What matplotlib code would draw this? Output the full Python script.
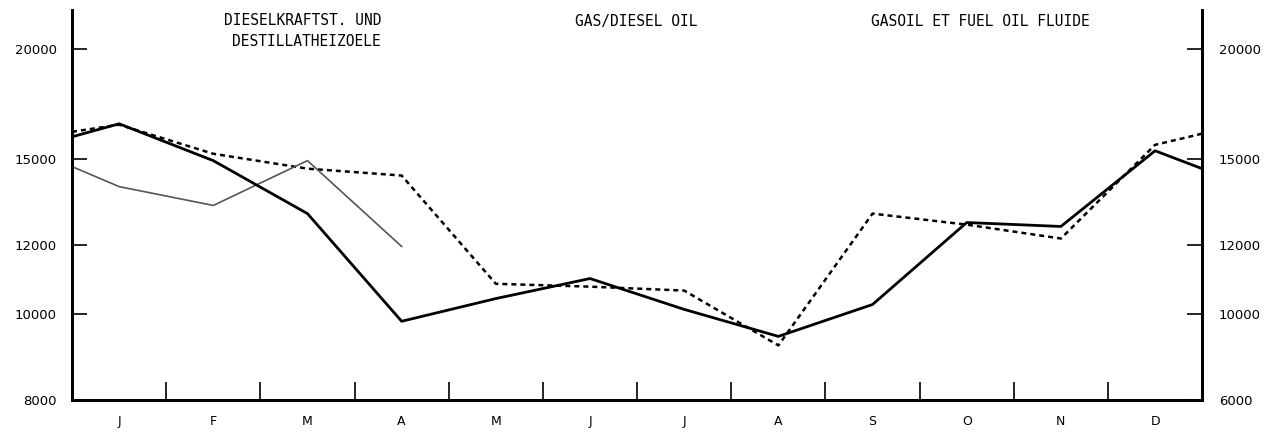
import matplotlib
matplotlib.use("Agg")
import matplotlib.pyplot as plt
from matplotlib.ticker import FixedLocator, NullLocator, FixedFormatter

# DATA (first/last points sit on the frame edges)

MONTHS = ["J", "F", "M", "A", "M", "J", "J", "A", "S", "O", "N", "D"]

x_full = [0, 0.5, 1.5, 2.5, 3.5, 4.5, 5.5, 6.5, 7.5, 8.5, 9.5, 10.5, 11.5, 12]
solid_vals = [15900, 16450, 14940, 13010, 9820, 10420, 10980, 10130, 9440,
              10260, 12710, 12580, 15330, 14630]
dotted_vals = [16110, 16410, 15210, 14630, 14370, 10830, 10750, 10640, 9220,
               13010, 12640, 12190, 15570, 16030]

x_part = [0, 0.5, 1.5, 2.5, 3.5]
grey_vals = [14710, 13960, 13290, 14940, 11940]

Y_TICKS = [8000, 10000, 12000, 15000, 20000]
Y_LABELS_LEFT = ["8000", "10000", "12000", "15000", "20000"]
Y_LABELS_RIGHT = ["6000", "10000", "12000", "15000", "20000"]

TITLE_DE_1 = "DIESELKRAFTST. UND"
TITLE_DE_2 = "DESTILLATHEIZOELE"
TITLE_EN = "GAS/DIESEL OIL"
TITLE_FR = "GASOIL ET FUEL OIL FLUIDE"

# PLOT

fig = plt.figure(figsize=(12.77, 4.32), dpi=100)
ax = fig.add_axes([0.0564, 0.0741, 0.885, 0.903])

ax.plot(x_full, solid_vals, color="black", linewidth=2.0, zorder=3)
ax.plot(x_full, dotted_vals, color="black", linewidth=1.8,
        linestyle=(0, (2, 1.6)), zorder=2)
ax.plot(x_part, grey_vals, color="#555555", linewidth=1.2, zorder=2)

ax.set_yscale("log")
ax.set_ylim(7995, 22150)
ax.set_xlim(0, 12)

# x axis: month labels centred, small tick marks between months
ax.xaxis.set_major_locator(FixedLocator(list(range(1, 12))))
ax.xaxis.set_major_formatter(FixedFormatter([""] * 11))
ax.xaxis.set_minor_locator(FixedLocator([i + 0.5 for i in range(12)]))
ax.xaxis.set_minor_formatter(FixedFormatter(MONTHS))
ax.tick_params(axis="x", which="major", direction="in", length=13, width=1.2)
ax.tick_params(axis="x", which="minor", length=0, pad=11, labelsize=9)

ax.yaxis.set_major_locator(FixedLocator(Y_TICKS))
ax.yaxis.set_major_formatter(FixedFormatter(Y_LABELS_LEFT))
ax.yaxis.set_minor_locator(NullLocator())
ax.tick_params(axis="y", which="major", direction="in", length=11, width=1.2,
               pad=11, labelsize=9.5)

ax2 = ax.twinx()
ax2.set_yscale("log")
ax2.set_ylim(ax.get_ylim())
ax2.yaxis.set_major_locator(FixedLocator(Y_TICKS))
ax2.yaxis.set_major_formatter(FixedFormatter(Y_LABELS_RIGHT))
ax2.yaxis.set_minor_locator(NullLocator())
ax2.tick_params(axis="y", which="major", direction="in", length=11, width=1.2,
                pad=12, labelsize=9.5)

for a in (ax, ax2):
    a.spines["top"].set_visible(False)
    for s in ("left", "right", "bottom"):
        a.spines[s].set_linewidth(2.0)

mono = dict(family="DejaVu Sans Mono", fontsize=10.5, va="center",
            transform=ax.transAxes)
ax.text(0.2735, 0.974, TITLE_DE_1, ha="right", **mono)
ax.text(0.2735, 0.918, TITLE_DE_2, ha="right", **mono)
ax.text(0.499, 0.970, TITLE_EN, ha="center", **mono)
ax.text(0.8035, 0.970, TITLE_FR, ha="center", **mono)

fig.savefig("out.png", dpi=100)
